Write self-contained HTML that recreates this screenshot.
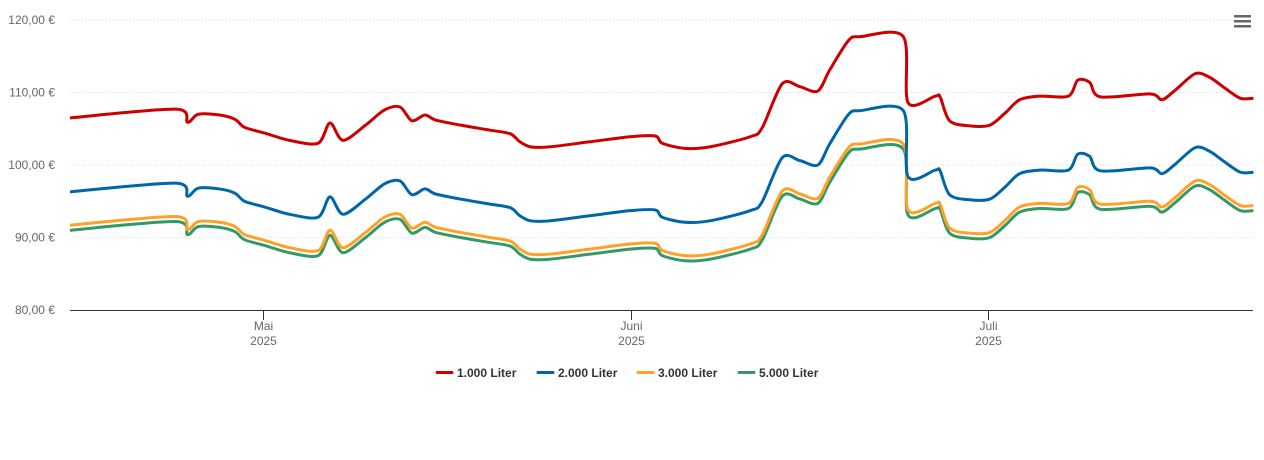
<!DOCTYPE html>
<html><head><meta charset="utf-8"><style>
body{margin:0;background:#fff;font-family:"Liberation Sans",sans-serif;}
svg{display:block}
</style></head><body>
<svg id="chart" width="1264" height="460">
<g id="grid"></g>
<g id="yaxis"></g>
<g id="xaxis"></g>
<g id="series"></g>
<g id="legend"></g>
<g transform="translate(1234,15)">
<rect x="0" y="0" width="17" height="2.5" fill="#666"/><rect x="0" y="5" width="17" height="2.5" fill="#666"/><rect x="0" y="10" width="17" height="2.5" fill="#666"/>
</g>
</svg>
<script>
const days=[0,8.9,9.9,10.8,12.6,13.9,14.7,16.4,18.5,20.9,21.9,23.0,24.9,26.5,27.8,28.8,29.9,30.8,32.9,35.4,37.1,37.9,38.8,40.4,43.8,47.2,49.3,49.9,51.8,53.9,57.3,58.3,60.0,61.5,63.0,64.0,65.6,66.6,70.2,70.6,72.9,73.3,74.1,75.8,77.5,78.8,80.0,81.7,84.1,84.9,85.9,86.8,91.0,92.0,93.1,94.8,96.0,97.3,98.6,99.7];
const liter1000=[106.5,107.7,105.9,107.0,106.9,106.3,105.2,104.4,103.4,103.0,105.8,103.4,105.5,107.6,108.0,106.1,106.9,106.2,105.5,104.8,104.3,103.2,102.5,102.5,103.2,103.9,104.0,103.0,102.3,102.5,103.9,105.1,111.2,110.8,110.2,113.1,117.2,117.7,117.7,108.6,109.5,109.4,106.1,105.4,105.5,107.2,109.0,109.5,109.5,111.7,111.4,109.4,109.8,109.0,110.3,112.6,112.1,110.6,109.2,109.2];
const liter2000=[96.3,97.5,95.7,96.8,96.7,96.1,95.0,94.2,93.2,92.8,95.6,93.2,95.3,97.4,97.8,95.9,96.7,96.0,95.3,94.6,94.1,93.0,92.3,92.3,93.0,93.7,93.8,92.8,92.1,92.3,93.7,94.9,101.0,100.6,100.0,102.9,107.0,107.5,107.5,98.4,99.3,99.2,95.9,95.2,95.3,97.0,98.8,99.3,99.3,101.5,101.2,99.2,99.6,98.8,100.1,102.4,101.9,100.4,99.0,99.0];
const liter3000=[91.7,92.9,91.1,92.2,92.1,91.5,90.4,89.6,88.6,88.2,91.0,88.6,90.7,92.8,93.2,91.3,92.1,91.4,90.7,90.0,89.5,88.4,87.7,87.7,88.4,89.1,89.2,88.2,87.5,87.7,89.1,90.3,96.4,96.0,95.4,98.3,102.4,102.9,102.9,93.8,94.7,94.6,91.3,90.6,90.7,92.4,94.2,94.7,94.7,96.9,96.6,94.6,95.0,94.2,95.5,97.8,97.3,95.8,94.4,94.4];
const liter5000=[91.0,92.2,90.4,91.5,91.4,90.8,89.7,88.9,87.9,87.5,90.3,87.9,90.0,92.1,92.5,90.6,91.4,90.7,90.0,89.3,88.8,87.7,87.0,87.0,87.7,88.4,88.5,87.5,86.8,87.0,88.4,89.6,95.7,95.3,94.7,97.6,101.7,102.2,102.2,93.1,94.0,93.9,90.6,89.9,90.0,91.7,93.5,94.0,94.0,96.2,95.9,93.9,94.3,93.5,94.8,97.1,96.6,95.1,93.7,93.7];
const seriesNames=["1.000 Liter","2.000 Liter","3.000 Liter","5.000 Liter"];
const yTicks=[80,90,100,110,120];
const yTickLabels=["80,00 €","90,00 €","100,00 €","110,00 €","120,00 €"];
const xTickDays=[16.3,47.3,77.3];
const xTickLabels=["Mai","Juni","Juli"];
const xTickYear="2025";

const NS="http://www.w3.org/2000/svg";
const X0=70,X1=1253,Y0=310,Y1=20;
const xs=d=>X0+d*11.87;
const ys=v=>Y0-(v-80)/40*(Y0-Y1);
function mk(t,a,p){const e=document.createElementNS(NS,t);for(const k in a)e.setAttribute(k,a[k]);p.appendChild(e);return e;}
const grid=document.getElementById('grid'),yax=document.getElementById('yaxis'),xax=document.getElementById('xaxis');
yTicks.forEach((v,i)=>{
  if(v>80){const l=mk('line',{x1:X0,x2:X1,y1:ys(v),y2:ys(v),stroke:'#ddd','stroke-dasharray':'1,2'},grid);
  
  }
  const t=mk('text',{x:55,y:ys(v)+4,'text-anchor':'end','font-size':12,fill:'#666'},yax);
  t.textContent=yTickLabels[i];
  
  
});
const axl=mk('line',{x1:X0,x2:X1,y1:Y0+0.5,y2:Y0+0.5,stroke:'#333','stroke-width':1},xax);


xTickDays.forEach((d,i)=>{
  const x=Math.round(xs(d))+0.5;
  const tk=mk('line',{x1:x,x2:x,y1:Y0,y2:Y0+10,stroke:'#333'},xax);
  
  
  const t=mk('text',{x:x,y:330,'text-anchor':'middle','font-size':12,fill:'#666'},xax);
  
  
  const s1=mk('tspan',{x:x,dy:0},t);s1.textContent=xTickLabels[i];
  const s2=mk('tspan',{x:x,dy:15},t);s2.textContent=xTickYear;
});
function smooth(pts){
  let d=`M${pts[0][0]},${pts[0][1]}`;
  for(let i=0;i<pts.length-1;i++){
    const p0=pts[i-1]||pts[i],p1=pts[i],p2=pts[i+1],p3=pts[i+2]||p2;
    const t=0.15;
    const c1=[p1[0]+(p2[0]-p0[0])*t,p1[1]+(p2[1]-p0[1])*t];
    const c2=[p2[0]-(p3[0]-p1[0])*t,p2[1]-(p3[1]-p1[1])*t];
    d+=`C${c1[0]},${c1[1]} ${c2[0]},${c2[1]} ${p2[0]},${p2[1]}`;
  }
  return d;
}
const colors=["#cc0000","#0066aa","#ffa126","#339966"];
const data=[liter1000,liter2000,liter3000,liter5000];
const sg=document.getElementById('series');
[3,2,1,0].forEach(k=>{
  const pts=days.map((d,i)=>[xs(d),ys(data[k][i])]);
  const p=mk('path',{d:smooth(pts),fill:'none',stroke:colors[k],'stroke-width':3,'stroke-linejoin':'round'},sg);
  
  
});
const lg=document.getElementById('legend');
const lx=[437,538,638,739];
seriesNames.forEach((n,k)=>{
  const g=mk('g',{},lg);
  
  
  mk('line',{x1:lx[k],x2:lx[k]+15,y1:372.5,y2:372.5,stroke:colors[k],'stroke-width':3,'stroke-linecap':'round'},g);
  const t=mk('text',{x:lx[k]+20,y:377,'font-size':12,'font-weight':'bold',fill:'#333'},g);
  t.textContent=n;
});
</script>
</body></html>
